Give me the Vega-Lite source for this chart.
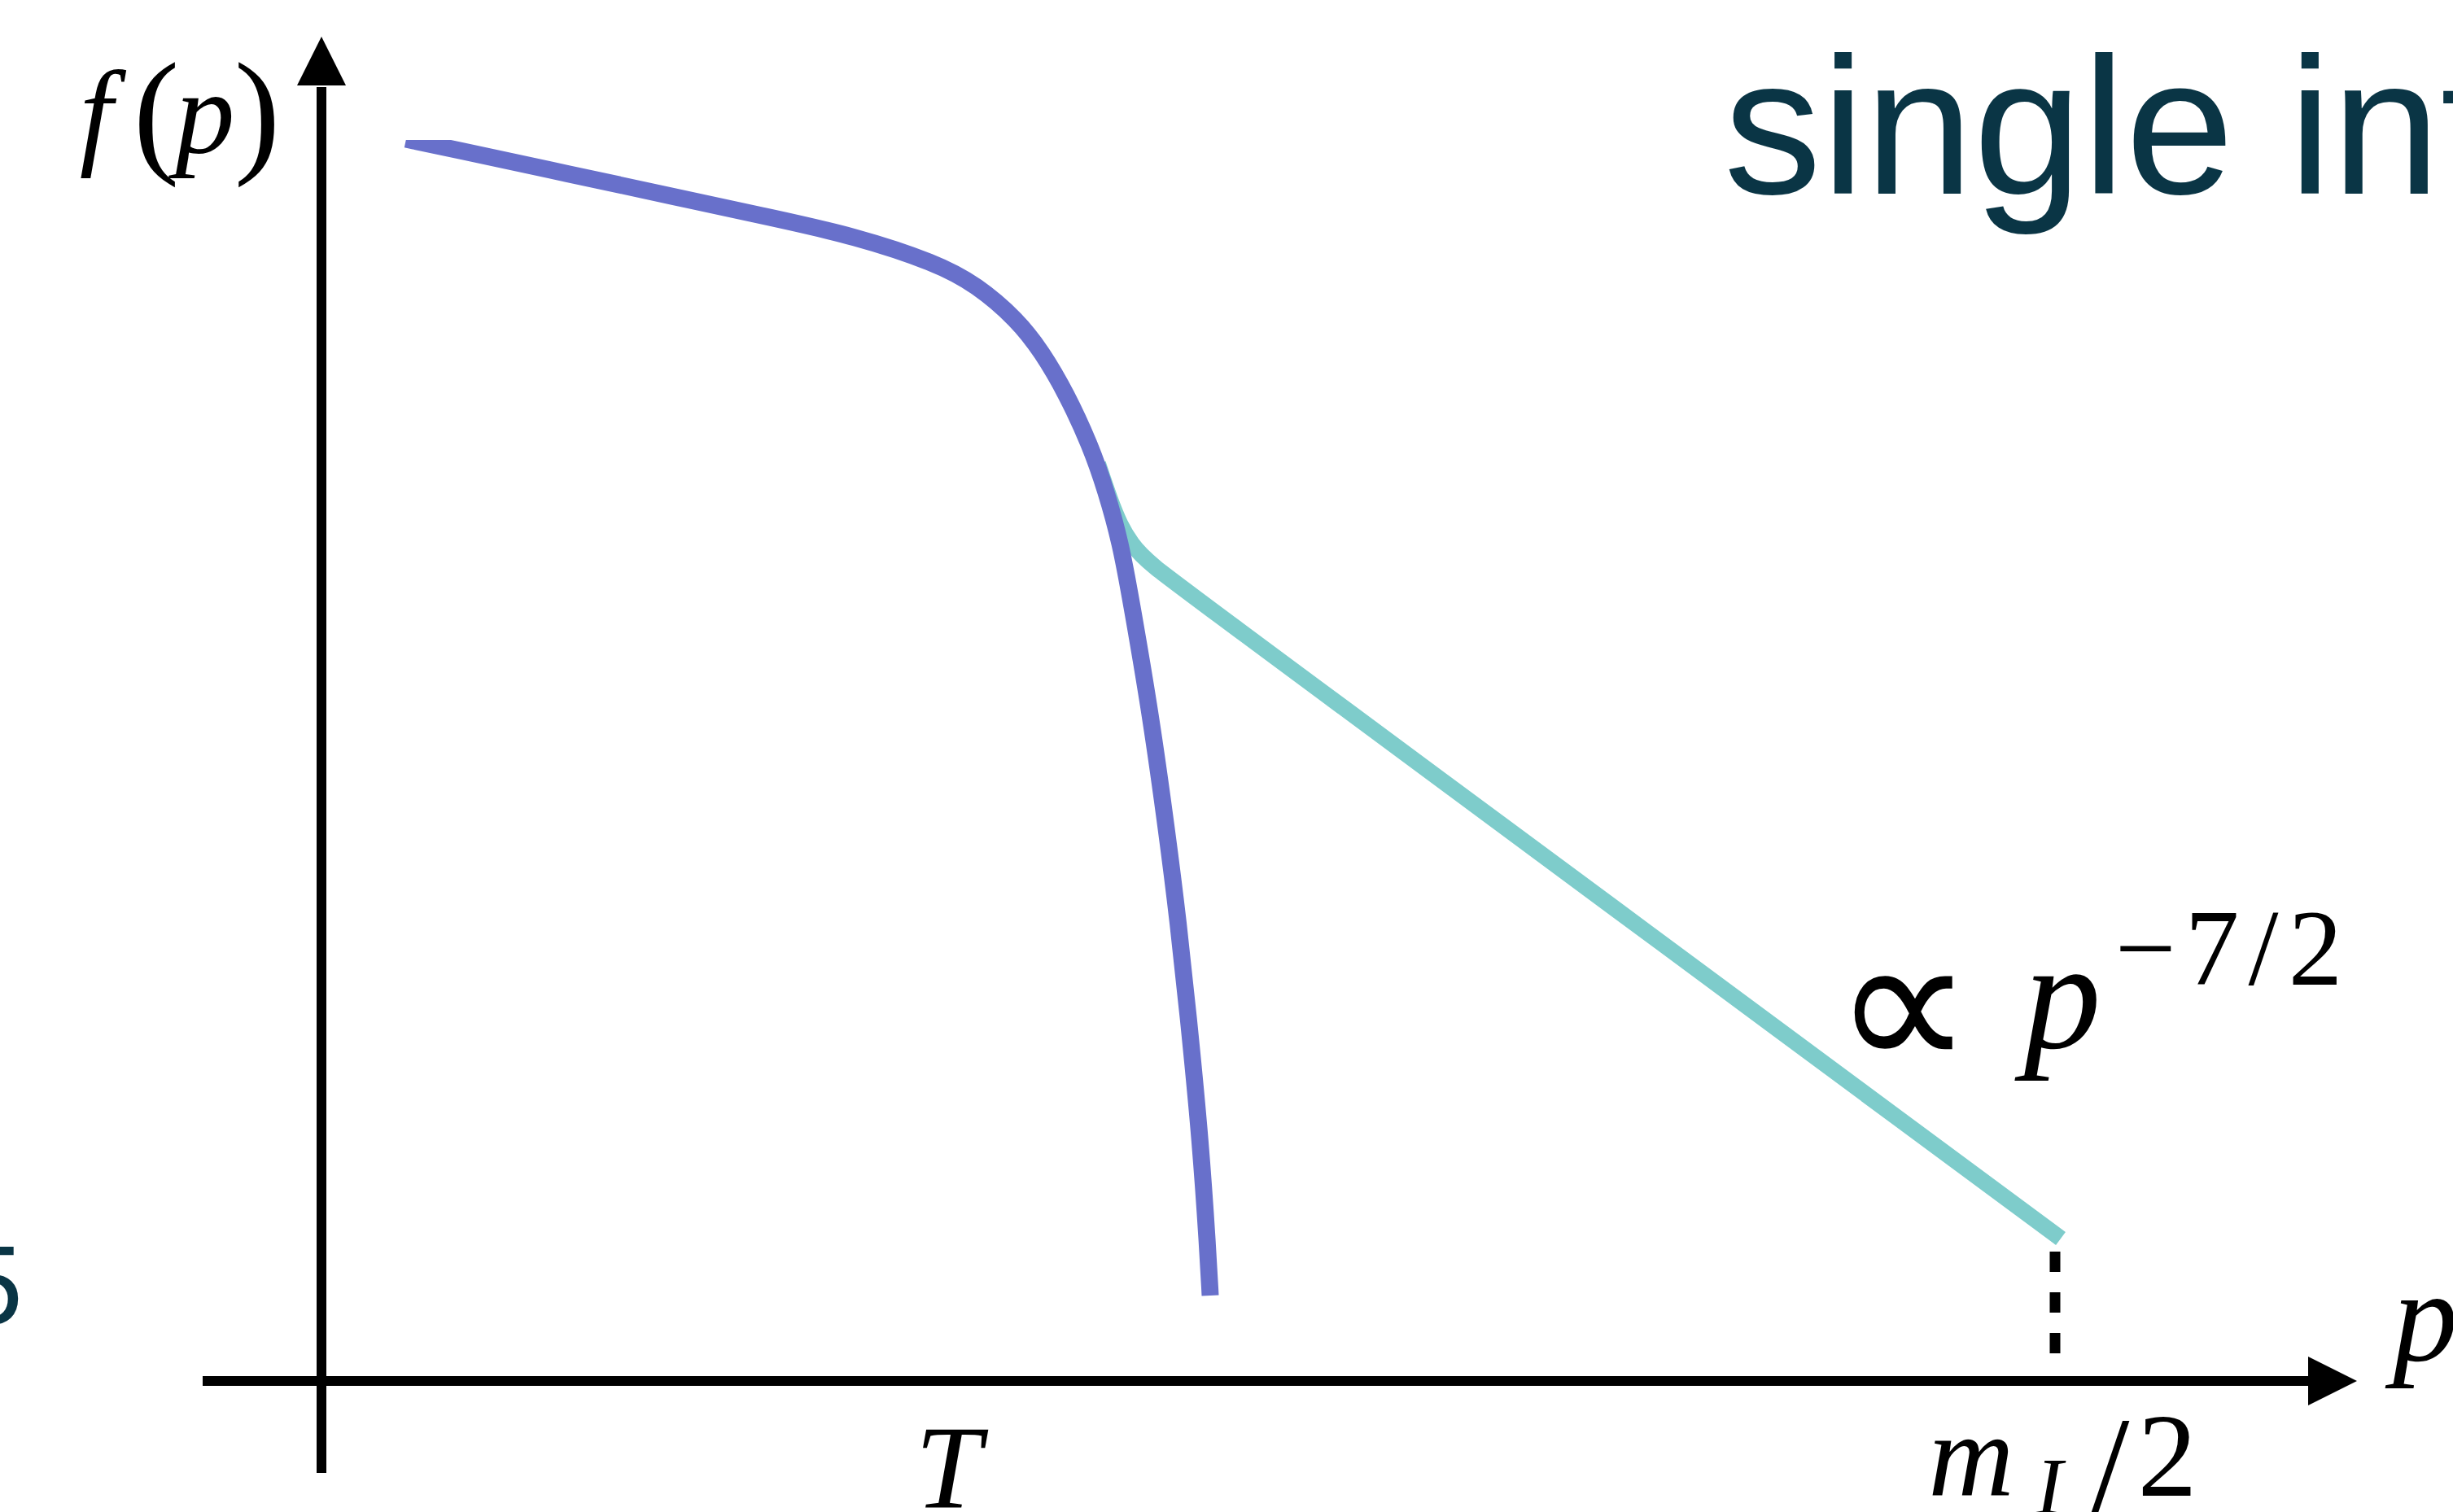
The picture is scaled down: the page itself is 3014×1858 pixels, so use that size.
{
  "$schema": "https://vega.github.io/schema/vega-lite/v6.json",
  "width": 3014,
  "height": 1858,
  "autosize": {"type": "none"},
  "padding": 0,
  "background": "white",
  "config": {"view": {"stroke": null}},
  "datasets": {
    "thermal": [
      {"p": 1.04, "f": 15.26}, {"p": 1.58, "f": 15.145}, {"p": 3.05, "f": 14.83},
      {"p": 4.35, "f": 14.55}, {"p": 5.55, "f": 14.29},
      {"p": 6.55, "f": 14.07}, {"p": 7.55, "f": 13.74}, {"p": 8.05, "f": 13.47},
      {"p": 8.55, "f": 13.04}, {"p": 8.85, "f": 12.65}, {"p": 9.15, "f": 12.14},
      {"p": 9.45, "f": 11.49}, {"p": 9.64, "f": 10.94}, {"p": 9.82, "f": 10.29},
      {"p": 9.94, "f": 9.63}, {"p": 10.17, "f": 8.30}, {"p": 10.36, "f": 6.96},
      {"p": 10.53, "f": 5.63}, {"p": 10.67, "f": 4.29}, {"p": 10.80, "f": 2.95},
      {"p": 10.89, "f": 1.62}, {"p": 10.92, "f": 1.05}
    ],
    "powerlaw": [
      {"p": 9.54, "f": 11.27}, {"p": 9.69, "f": 10.82}, {"p": 9.81, "f": 10.52},
      {"p": 9.95, "f": 10.29}, {"p": 10.13, "f": 10.07}, {"p": 11.05, "f": 9.39},
      {"p": 20.95, "f": 2.06}, {"p": 21.37, "f": 1.75}
    ],
    "cutoff": [{"p": 0.75, "f": 15.25, "p2": 2.0, "f2": 15.75}],
    "axes": [
      {"p": 0, "f": -1.13, "p2": 0, "f2": 15.9},
      {"p": -1.46, "f": 0, "p2": 24.45, "f2": 0}
    ],
    "heads": [
      {"p": 0, "f": 16.22, "dir": "up"},
      {"p": 24.71, "f": 0, "dir": "right"}
    ],
    "endpoint": [{"p": 21.30, "f": 1.59, "p2": 21.30, "f2": 0.34}],
    "mathItalic": [
      {"p": -2.77, "f": 15.09, "label": "f"},
      {"p": -1.43, "f": 15.09, "label": "p"},
      {"p": 7.70, "f": -1.56, "label": "T"},
      {"p": 20.27, "f": -1.41, "label": "m"}
    ],
    "parens": [
      {"p": -2.03, "f": 15.03, "label": "("},
      {"p": -0.79, "f": 15.03, "label": ")"}
    ],
    "mathUpright": [
      {"p": 22.68, "f": -1.41, "label": "2"}
    ],
    "slash": [{"p": 21.97, "f": -1.65, "label": "/"}],
    "subscript": [{"p": 21.23, "f": -1.63, "label": "I"}],
    "axisVar": [{"p": 25.85, "f": 0.25, "label": "p"}],
    "scalingVar": [{"p": 21.39, "f": 4.10, "label": "p"}],
    "propto": [{"p": 19.43, "f": 3.81, "label": "∝"}],
    "exponent": [
      {"p": 22.41, "f": 4.87, "label": "−"},
      {"p": 23.23, "f": 4.87, "label": "7"},
      {"p": 23.86, "f": 4.87, "label": "/"},
      {"p": 24.50, "f": 4.87, "label": "2"}
    ],
    "heading": [{"p": 17.23, "f": 14.59, "label": "single interaction"}],
    "edgeNote": [{"p": -3.67, "f": 0.70, "label": "5"}]
  },
  "encoding": {
    "x": {"field": "p", "type": "quantitative", "axis": null,
          "scale": {"domain": [-3.95, 26.19], "nice": false, "zero": false}},
    "y": {"field": "f", "type": "quantitative", "axis": null,
          "scale": {"domain": [-1.61, 16.97], "nice": false, "zero": false}}
  },
  "layer": [
    {
      "data": {"name": "powerlaw"},
      "mark": {"type": "line", "color": "#7ECCCB", "strokeWidth": 20, "interpolate": "basis", "strokeCap": "butt"},
      "encoding": {"strokeWidth": {"value": 20}}
    },
    {
      "data": {"name": "thermal"},
      "mark": {"type": "line", "color": "#6870CB", "strokeWidth": 21, "interpolate": "basis", "strokeCap": "butt"},
      "encoding": {"strokeWidth": {"value": 21}}
    },
    {
      "data": {"name": "cutoff"},
      "mark": {"type": "rect", "color": "white", "strokeWidth": 0},
      "encoding": {"x2": {"field": "p2"}, "y2": {"field": "f2"}}
    },
    {
      "data": {"name": "axes"},
      "mark": {"type": "rule", "color": "black", "strokeWidth": 12, "strokeCap": "butt"},
      "encoding": {"x2": {"field": "p2"}, "y2": {"field": "f2"}}
    },
    {
      "data": {"name": "heads"},
      "mark": {"type": "point", "filled": true, "color": "black", "opacity": 1, "size": 3600, "strokeWidth": 0},
      "encoding": {
        "shape": {"field": "dir", "type": "nominal", "legend": null,
                  "scale": {"domain": ["up", "right"], "range": ["M0,-1L1,1L-1,1Z", "M1,0L-1,-1L-1,1Z"]}}
      }
    },
    {
      "data": {"name": "endpoint"},
      "mark": {"type": "rule", "color": "black", "strokeWidth": 13, "strokeDash": [25, 25], "strokeCap": "butt"},
      "encoding": {"x2": {"field": "p2"}, "y2": {"field": "f2"}}
    },
    {
      "data": {"name": "mathItalic"},
      "mark": {"type": "text", "font": "Liberation Serif", "fontStyle": "italic", "fontSize": 146, "align": "center", "baseline": "alphabetic", "color": "black"},
      "encoding": {"text": {"field": "label"}}
    },
    {
      "data": {"name": "parens"},
      "mark": {"type": "text", "font": "Liberation Serif", "fontSize": 170, "align": "center", "baseline": "alphabetic", "color": "black"},
      "encoding": {"text": {"field": "label"}}
    },
    {
      "data": {"name": "mathUpright"},
      "mark": {"type": "text", "font": "Liberation Serif", "fontSize": 146, "align": "center", "baseline": "alphabetic", "color": "black"},
      "encoding": {"text": {"field": "label"}}
    },
    {
      "data": {"name": "slash"},
      "mark": {"type": "text", "font": "Liberation Serif", "fontSize": 175, "align": "center", "baseline": "alphabetic", "color": "black"},
      "encoding": {"text": {"field": "label"}}
    },
    {
      "data": {"name": "subscript"},
      "mark": {"type": "text", "font": "Liberation Serif", "fontStyle": "italic", "fontSize": 100, "align": "center", "baseline": "alphabetic", "color": "black"},
      "encoding": {"text": {"field": "label"}}
    },
    {
      "data": {"name": "axisVar"},
      "mark": {"type": "text", "font": "Liberation Serif", "fontStyle": "italic", "fontSize": 160, "align": "center", "baseline": "alphabetic", "color": "black"},
      "encoding": {"text": {"field": "label"}}
    },
    {
      "data": {"name": "scalingVar"},
      "mark": {"type": "text", "font": "Liberation Serif", "fontStyle": "italic", "fontSize": 190, "align": "center", "baseline": "alphabetic", "color": "black"},
      "encoding": {"text": {"field": "label"}}
    },
    {
      "data": {"name": "propto"},
      "mark": {"type": "text", "font": "Liberation Serif", "fontSize": 240, "align": "center", "baseline": "alphabetic", "color": "black"},
      "encoding": {"text": {"field": "label"}}
    },
    {
      "data": {"name": "exponent"},
      "mark": {"type": "text", "font": "Liberation Serif", "fontSize": 133, "align": "center", "baseline": "alphabetic", "color": "black"},
      "encoding": {"text": {"field": "label"}}
    },
    {
      "data": {"name": "heading"},
      "mark": {"type": "text", "font": "Liberation Sans", "fontSize": 240, "align": "left", "baseline": "alphabetic", "color": "#0A3545"},
      "encoding": {"text": {"field": "label"}}
    },
    {
      "data": {"name": "edgeNote"},
      "mark": {"type": "text", "font": "Liberation Sans", "fontSize": 137, "align": "right", "baseline": "alphabetic", "color": "#0A3545"},
      "encoding": {"text": {"field": "label"}}
    }
  ]
}
